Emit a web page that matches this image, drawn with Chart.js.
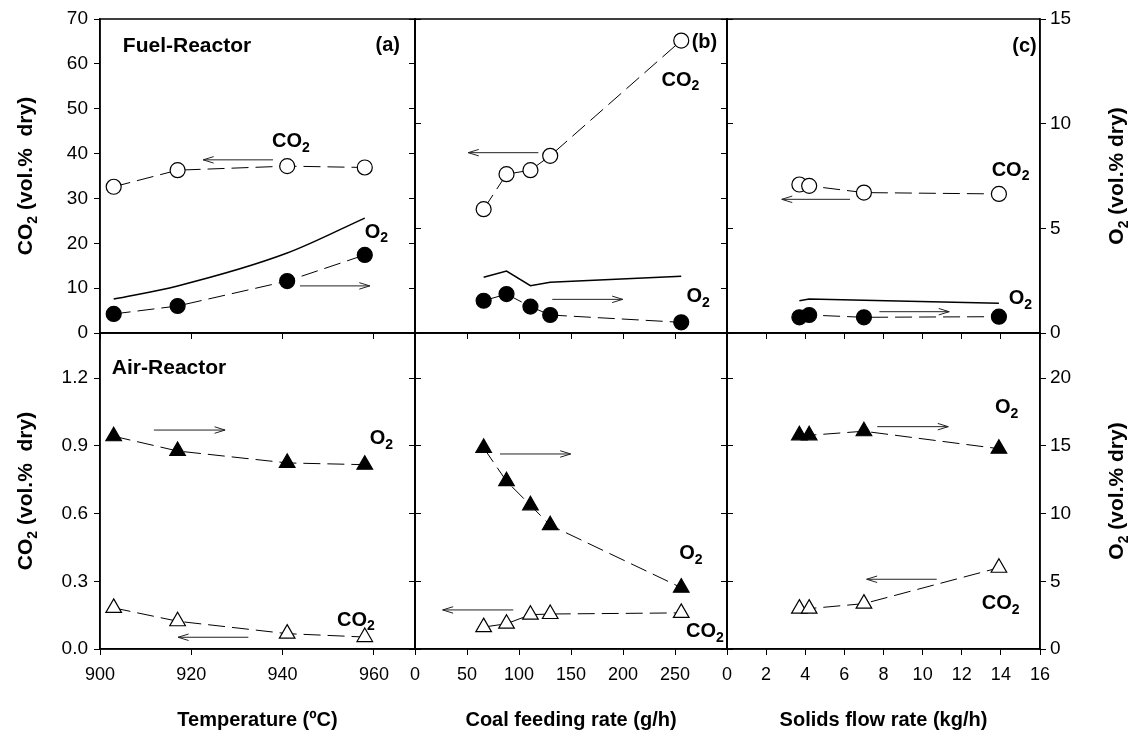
<!DOCTYPE html>
<html><head><meta charset="utf-8">
<script src="https://cdn.jsdelivr.net/npm/chart.js@4.4.0/dist/chart.umd.min.js"></script>
<style>
html,body{margin:0;padding:0;background:#fff;}
#wrap{position:relative;width:1131px;height:735px;overflow:hidden;background:#fff;}
#wrap canvas{position:absolute;left:0;top:0;}
</style></head><body><div id="wrap"></div>
<script>
// ---------------- DATA ----------------
// (a) Temperature (ºC)
const tempA = [903, 917, 941, 958];
const frCO2_A = [32.6, 36.3, 37.2, 36.9];      // Fuel-Reactor CO2 (left axis)
const frO2_A = [0.91, 1.29, 2.48, 3.73];       // Fuel-Reactor O2 (right axis)
const frO2line_A = [1.62, 2.25, 3.82, 5.49];   // Fuel-Reactor O2 solid line (right axis)
const arO2_A = [15.71, 14.62, 13.74, 13.61];   // Air-Reactor O2 (right axis)
const arCO2_A = [0.182, 0.123, 0.068, 0.053];  // Air-Reactor CO2 (left axis)

// (b) Coal feeding rate (g/h)
const coalB = [66, 88, 111, 130, 256];
const frCO2_B = [27.6, 35.4, 36.3, 39.5, 65.2];
const frO2_B = [1.54, 1.86, 1.26, 0.86, 0.51];
const frO2line_B = [2.66, 2.96, 2.26, 2.42, 2.71];
const arO2_B = [14.85, 12.39, 10.61, 9.14, 4.53];
const arCO2_B = [0.097, 0.112, 0.152, 0.155, 0.160];

// (c) Solids flow rate (kg/h)
const solidsC = [3.7, 4.2, 7.0, 13.9];
const frCO2_C = [33.1, 32.8, 31.3, 31.0];
const frO2_C = [0.75, 0.86, 0.75, 0.78];
const frO2line_C = [1.54, 1.62, 1.56, 1.42];
const arO2_C = [15.78, 15.78, 16.08, 14.79];
const arCO2_C = [0.179, 0.179, 0.201, 0.360];

// axis ranges / ticks
const xRangeA = [900, 969], xStepA = 20;
const xRangeB = [0, 300], xStepB = 50;
const xRangeC = [0, 16], xStepC = 2;
const frLeftRange = [0, 70], frLeftStep = 10;
const frRightRange = [0, 15], frRightStep = 5;
const arLeftRange = [0, 1.4], arLeftStep = 0.3;
const arRightRange = [0, 70 / 3], arRightStep = 5;

// text
const xTitleA = 'Temperature (ºC)';
const xTitleB = 'Coal feeding rate (g/h)';
const xTitleC = 'Solids flow rate (kg/h)';
const CO2 = [['CO', 0], ['2', 1]];
const O2 = [['O', 0], ['2', 1]];
const leftTitle = [['CO', 0], ['2', 1], [' (vol.%  dry)', 0]];
const rightTitle = [['O', 0], ['2', 1], [' (vol.% dry)', 0]];

// ---------------- LAYOUT ----------------
const FONT = "'Liberation Sans', Arial, Helvetica, sans-serif";
const W = 1131, H = 735;
const ROWS = { top: { T: 19, B: 333 }, bot: { T: 333, B: 649 } };
const COLS = { a: { L: 100, R: 415 }, b: { L: 415, R: 727 }, c: { L: 727, R: 1040 } };

function drawRich(ctx, segs, x, y, size, align, rotate) {
  const sub = Math.round(size * 0.68);
  let w = 0;
  const parts = segs.map(([t, s]) => {
    ctx.font = `bold ${s ? sub : size}px ${FONT}`;
    const m = ctx.measureText(t).width; w += m;
    return { t, s, m };
  });
  ctx.save();
  ctx.translate(x, y);
  if (rotate) ctx.rotate(-Math.PI / 2);
  let cx = align === 'center' ? -w / 2 : align === 'right' ? -w : 0;
  ctx.textBaseline = 'middle'; ctx.textAlign = 'left'; ctx.fillStyle = '#000';
  parts.forEach(p => {
    ctx.font = `bold ${p.s ? sub : size}px ${FONT}`;
    ctx.fillText(p.t, cx, p.s ? size * 0.32 : 0);
    cx += p.m;
  });
  ctx.restore();
}

function drawArrow(ctx, x1, y1, x2, y2) {
  const a = Math.atan2(y2 - y1, x2 - x1), L = 11, s = 0.3;
  ctx.save();
  ctx.strokeStyle = '#222'; ctx.lineWidth = 1;
  ctx.beginPath(); ctx.moveTo(x1, y1); ctx.lineTo(x2, y2);
  ctx.moveTo(x2 - L * Math.cos(a - s), y2 - L * Math.sin(a - s));
  ctx.lineTo(x2, y2);
  ctx.lineTo(x2 - L * Math.cos(a + s), y2 - L * Math.sin(a + s));
  ctx.stroke();
  ctx.restore();
}

const framePlugin = {
  id: 'frame',
  afterDatasetsDraw(chart) {
    const { ctx, chartArea: c } = chart;
    ctx.save(); ctx.strokeStyle = '#000'; ctx.lineWidth = 1.5;
    ctx.strokeRect(c.left, c.top, c.right - c.left, c.bottom - c.top);
    ctx.restore();
  }
};

const annotPlugin = {
  id: 'annot',
  afterDraw(chart, args, opts) {
    const { ctx, chartArea: c } = chart;
    const xs = chart.scales.x, ys = chart.scales.yL;
    (opts.arrows || []).forEach(a => drawArrow(ctx, xs.getPixelForValue(a.x1), ys.getPixelForValue(a.y),
      xs.getPixelForValue(a.x2), ys.getPixelForValue(a.y)));
    (opts.texts || []).forEach(t => drawRich(ctx, t.segs, xs.getPixelForValue(t.x), ys.getPixelForValue(t.y),
      t.size || 20, t.align || 'left', false));
    const cy = (c.top + c.bottom) / 2;
    if (opts.leftTitle) drawRich(ctx, opts.leftTitle, c.left - 74, cy, 21, 'center', true);
    if (opts.rightTitle) drawRich(ctx, opts.rightTitle, c.right + 77, cy, 21, 'center', true);
  }
};

function pts(xs, ys) { return xs.map((x, i) => ({ x, y: ys[i] })); }

function markerSet(xs, ys, axis, style, filled) {
  return {
    data: pts(xs, ys), yAxisID: axis, xAxisID: 'x', showLine: true,
    borderColor: '#000', borderWidth: 1, borderDash: [17, 7],
    pointStyle: style, pointRadius: style === 'triangle' ? 9 : 7.5,
    pointBackgroundColor: filled ? '#000' : '#fff', pointBorderColor: '#000', pointBorderWidth: 1.2,
    tension: 0, clip: false, order: 1
  };
}
function solidSet(xs, ys, smooth) {
  return {
    data: pts(xs, ys), yAxisID: 'yR', xAxisID: 'x', showLine: true,
    borderColor: '#000', borderWidth: 1.5, pointRadius: 0,
    tension: smooth ? 0.4 : 0, cubicInterpolationMode: smooth ? 'monotone' : 'default', order: 2
  };
}

function makePanel(col, row, o) {
  const { L, R } = COLS[col], { T, B } = ROWS[row];
  const wl = col === 'a' ? 100 : 12;
  const wr = col === 'c' ? W - R : 12;
  const xh = row === 'bot' ? H - B : 10;
  const cv = document.createElement('canvas');
  cv.width = W; cv.height = H;
  document.getElementById('wrap').appendChild(cv);
  const xTickFont = { family: FONT, size: 18 };
  const yTickFont = { family: FONT, size: 19 };
  const grid = { drawOnChartArea: false, drawTicks: true, tickLength: 6, color: '#000', lineWidth: 1 };
  const border = { display: true, color: '#000', width: 1.5 };
  new Chart(cv, {
    type: 'scatter',
    data: { datasets: o.datasets },
    options: {
      responsive: false, animation: false, devicePixelRatio: 1, events: [],
      layout: { padding: { left: L - wl, right: W - R - wr, top: T, bottom: H - B - xh } },
      plugins: { legend: { display: false }, tooltip: { enabled: false },
        annot: { texts: o.texts, arrows: o.arrows, leftTitle: o.leftTitle, rightTitle: o.rightTitle } },
      scales: {
        x: {
          type: 'linear', position: 'bottom', min: o.xRange[0], max: o.xRange[1],
          ticks: { stepSize: o.xStep, includeBounds: false, display: row === 'bot', font: xTickFont, color: '#000', padding: 9, maxRotation: 0,
            callback: v => (v > o.xLabelMax ? '' : String(v)) },
          grid: { ...grid, tickLength: 6 }, border,
          title: { display: row === 'bot', text: o.xTitle, color: '#000', font: { family: FONT, size: 20, weight: 'bold' }, padding: { top: 0, bottom: 3 } },
          afterFit: s => { s.height = xh; }
        },
        yL: {
          axis: 'y', type: 'linear', position: 'left', min: o.yL[0], max: o.yL[1],
          ticks: { stepSize: o.yLStep, includeBounds: false, display: col === 'a', font: yTickFont, color: '#000', padding: 6,
            callback: o.yLFmt || (v => String(v)) },
          grid, border,
          afterFit: s => { s.width = wl; }
        },
        yR: {
          axis: 'y', type: 'linear', position: 'right', min: o.yR[0], max: o.yR[1],
          ticks: { stepSize: o.yRStep, includeBounds: false, display: col === 'c', font: yTickFont, color: '#000', padding: 4,
            callback: v => String(Math.round(v)) },
          grid, border,
          afterFit: s => { s.width = wr; }
        }
      }
    },
    plugins: [framePlugin, annotPlugin]
  });
}

const fmt1 = v => v.toFixed(1);

// ---------------- TOP ROW (Fuel-Reactor) ----------------
makePanel('a', 'top', {
  xRange: xRangeA, xStep: xStepA, xLabelMax: 960, xTitle: xTitleA,
  yL: frLeftRange, yLStep: frLeftStep, yR: frRightRange, yRStep: frRightStep,
  datasets: [markerSet(tempA, frCO2_A, 'yL', 'circle', false), markerSet(tempA, frO2_A, 'yR', 'circle', true), solidSet(tempA, frO2line_A, true)],
  texts: [{ x: 905, y: 64.0, segs: [['Fuel-Reactor', 0]], size: 21 }, { x: 965.7, y: 64.2, segs: [['(a)', 0]], align: 'right' },
    { x: 937.7, y: 42.6, segs: CO2 }, { x: 958, y: 22.5, segs: O2 }],
  arrows: [{ x1: 937.9, x2: 922.6, y: 38.6 }, { x1: 943.8, x2: 959.1, y: 10.5 }],
  leftTitle: leftTitle
});
makePanel('b', 'top', {
  xRange: xRangeB, xStep: xStepB, xLabelMax: 250, xTitle: xTitleB,
  yL: frLeftRange, yLStep: frLeftStep, yR: frRightRange, yRStep: frRightStep,
  datasets: [markerSet(coalB, frCO2_B, 'yL', 'circle', false), markerSet(coalB, frO2_B, 'yR', 'circle', true), solidSet(coalB, frO2line_B, false)],
  texts: [{ x: 266, y: 64.7, segs: [['(b)', 0]] }, { x: 237, y: 56.4, segs: CO2 }, { x: 261, y: 8.1, segs: O2 }],
  arrows: [{ x1: 118.6, x2: 51.2, y: 40.2 }, { x1: 132, x2: 199.7, y: 7.5 }]
});
makePanel('c', 'top', {
  xRange: xRangeC, xStep: xStepC, xLabelMax: 16, xTitle: xTitleC,
  yL: frLeftRange, yLStep: frLeftStep, yR: frRightRange, yRStep: frRightStep,
  datasets: [markerSet(solidsC, frCO2_C, 'yL', 'circle', false), markerSet(solidsC, frO2_C, 'yR', 'circle', true), solidSet(solidsC, frO2line_C, false)],
  texts: [{ x: 15.83, y: 63.8, segs: [['(c)', 0]], align: 'right' }, { x: 13.53, y: 36.3, segs: CO2 }, { x: 14.4, y: 7.7, segs: O2 }],
  arrows: [{ x1: 6.29, x2: 2.8, y: 29.8 }, { x1: 7.79, x2: 11.36, y: 4.75 }],
  rightTitle: rightTitle
});

// ---------------- BOTTOM ROW (Air-Reactor) ----------------
makePanel('a', 'bot', {
  xRange: xRangeA, xStep: xStepA, xLabelMax: 960, xTitle: xTitleA,
  yL: arLeftRange, yLStep: arLeftStep, yLFmt: fmt1, yR: arRightRange, yRStep: arRightStep,
  datasets: [markerSet(tempA, arO2_A, 'yR', 'triangle', true), markerSet(tempA, arCO2_A, 'yL', 'triangle', false)],
  texts: [{ x: 902.6, y: 1.246, segs: [['Air-Reactor', 0]], size: 21 }, { x: 959.1, y: 0.933, segs: O2 }, { x: 951.9, y: 0.128, segs: CO2 }],
  arrows: [{ x1: 911.8, x2: 927.4, y: 0.970 }, { x1: 932.5, x2: 917.1, y: 0.052 }],
  leftTitle: leftTitle
});
makePanel('b', 'bot', {
  xRange: xRangeB, xStep: xStepB, xLabelMax: 250, xTitle: xTitleB,
  yL: arLeftRange, yLStep: arLeftStep, yLFmt: fmt1, yR: arRightRange, yRStep: arRightStep,
  datasets: [markerSet(coalB, arO2_B, 'yR', 'triangle', true), markerSet(coalB, arCO2_B, 'yL', 'triangle', false)],
  texts: [{ x: 254, y: 0.421, segs: O2 }, { x: 260.6, y: 0.077, segs: CO2 }],
  arrows: [{ x1: 81.7, x2: 149.7, y: 0.864 }, { x1: 94.5, x2: 26.6, y: 0.173 }]
});
makePanel('c', 'bot', {
  xRange: xRangeC, xStep: xStepC, xLabelMax: 16, xTitle: xTitleC,
  yL: arLeftRange, yLStep: arLeftStep, yLFmt: fmt1, yR: arRightRange, yRStep: arRightStep,
  datasets: [markerSet(solidsC, arO2_C, 'yR', 'triangle', true), markerSet(solidsC, arCO2_C, 'yL', 'triangle', false)],
  texts: [{ x: 13.7, y: 1.071, segs: O2 }, { x: 13.02, y: 0.202, segs: CO2 }],
  arrows: [{ x1: 7.68, x2: 11.31, y: 0.985 }, { x1: 10.72, x2: 7.14, y: 0.309 }],
  rightTitle: rightTitle
});
</script></body></html>
